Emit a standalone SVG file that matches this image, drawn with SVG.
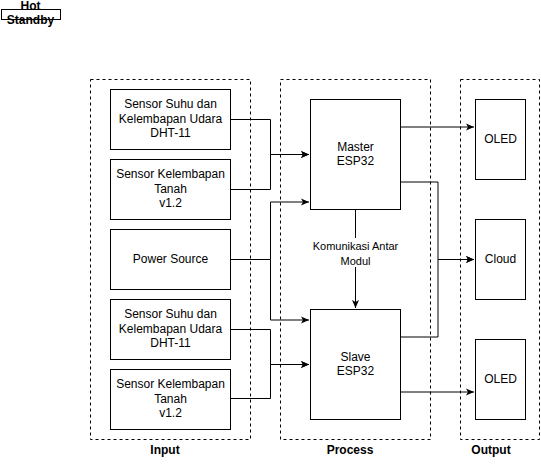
<svg xmlns="http://www.w3.org/2000/svg" width="541" height="467" viewBox="0 0 541 467">
<defs>
<style>
.box{fill:#fff;stroke:#000;stroke-width:1}
.grp{fill:none;stroke:#000;stroke-width:1;stroke-dasharray:3 3}
.t{font-family:"Liberation Sans",Arial,sans-serif;font-size:12px;fill:#000;text-anchor:middle}
.b{font-weight:bold}
.s{font-size:11px}
.c{fill:none;stroke:#000;stroke-width:1}
</style>
<marker id="arr" markerUnits="userSpaceOnUse" markerWidth="10" markerHeight="10" refX="9" refY="4" orient="auto">
<path d="M1,0.5 L9,4 L1,7.5 L3,4 z" fill="#000"/>
</marker>
</defs>
<rect width="541" height="467" fill="#fff"/>

<g id="hot-standby">
<rect class="box" x="1.5" y="9.5" width="59" height="10"/>
<text class="t b" x="30.5" y="9.5">Hot</text>
<text class="t b" x="30.5" y="24">Standby</text>
</g>

<g id="group-input">
<rect class="grp" x="90.5" y="79.5" width="160" height="360"/>
<text class="t b" x="165" y="454">Input</text>
</g>
<g id="group-process">
<rect class="grp" x="280.5" y="79.5" width="150" height="360"/>
<text class="t b" x="350" y="454">Process</text>
</g>
<g id="group-output">
<rect class="grp" x="460.5" y="79.5" width="79" height="360"/>
<text class="t b" x="491" y="454">Output</text>
</g>

<g id="connectors">
<polyline class="c" points="230.5,119.5 270.5,119.5 270.5,154.5 309,154.5" marker-end="url(#arr)"/>
<polyline class="c" points="230.5,189.5 270.5,189.5 270.5,154.5 309,154.5" marker-end="url(#arr)"/>
<polyline class="c" points="230.5,259.5 270.5,259.5 270.5,202 309,202" marker-end="url(#arr)"/>
<polyline class="c" points="230.5,259.5 270.5,259.5 270.5,320 309,320" marker-end="url(#arr)"/>
<polyline class="c" points="230.5,329.5 270.5,329.5 270.5,364.5 309,364.5" marker-end="url(#arr)"/>
<polyline class="c" points="230.5,398.5 270.5,398.5 270.5,364.5 309,364.5" marker-end="url(#arr)"/>
<polyline class="c" points="400.5,127 474,127" marker-end="url(#arr)"/>
<polyline class="c" points="400.5,182 438,182 438,259.5 474,259.5" marker-end="url(#arr)"/>
<polyline class="c" points="400.5,337 438,337 438,259.5 474,259.5" marker-end="url(#arr)"/>
<polyline class="c" points="400.5,392 474,392" marker-end="url(#arr)"/>
<polyline class="c" points="355.5,209.5 355.5,308" marker-end="url(#arr)"/>
<rect x="308" y="238" width="95" height="29" fill="#fff"/>
<text class="t s" x="355.5" y="250">Komunikasi Antar</text>
<text class="t s" x="355.5" y="265">Modul</text>
</g>

<g id="sensor-dht11-1">
<rect class="box" x="110.5" y="89.5" width="120" height="60"/>
<text class="t" x="170.5" y="108">Sensor Suhu dan</text>
<text class="t" x="170.5" y="122.5">Kelembapan Udara</text>
<text class="t" x="170.5" y="137">DHT-11</text>
</g>
<g id="sensor-tanah-1">
<rect class="box" x="110.5" y="159.5" width="120" height="60"/>
<text class="t" x="170.5" y="178">Sensor Kelembapan</text>
<text class="t" x="170.5" y="192.5">Tanah</text>
<text class="t" x="170.5" y="207">v1.2</text>
</g>
<g id="power-source">
<rect class="box" x="110.5" y="229.5" width="120" height="60"/>
<text class="t" x="170.5" y="262.5">Power Source</text>
</g>
<g id="sensor-dht11-2">
<rect class="box" x="110.5" y="299.5" width="120" height="60"/>
<text class="t" x="170.5" y="318">Sensor Suhu dan</text>
<text class="t" x="170.5" y="332.5">Kelembapan Udara</text>
<text class="t" x="170.5" y="347">DHT-11</text>
</g>
<g id="sensor-tanah-2">
<rect class="box" x="110.5" y="369.5" width="120" height="60"/>
<text class="t" x="170.5" y="388">Sensor Kelembapan</text>
<text class="t" x="170.5" y="402.5">Tanah</text>
<text class="t" x="170.5" y="417">v1.2</text>
</g>

<g id="master">
<rect class="box" x="310.5" y="99.5" width="90" height="110"/>
<text class="t" x="355.5" y="150.5">Master</text>
<text class="t" x="355.5" y="165">ESP32</text>
</g>
<g id="slave">
<rect class="box" x="310.5" y="309.5" width="90" height="110"/>
<text class="t" x="355.5" y="360.5">Slave</text>
<text class="t" x="355.5" y="375">ESP32</text>
</g>

<g id="oled-1">
<rect class="box" x="475.5" y="99.5" width="50" height="80"/>
<text class="t" x="500.5" y="142.5">OLED</text>
</g>
<g id="cloud">
<rect class="box" x="475.5" y="219.5" width="50" height="80"/>
<text class="t" x="500.5" y="262.5">Cloud</text>
</g>
<g id="oled-2">
<rect class="box" x="475.5" y="339.5" width="50" height="80"/>
<text class="t" x="500.5" y="382.5">OLED</text>
</g>
</svg>
